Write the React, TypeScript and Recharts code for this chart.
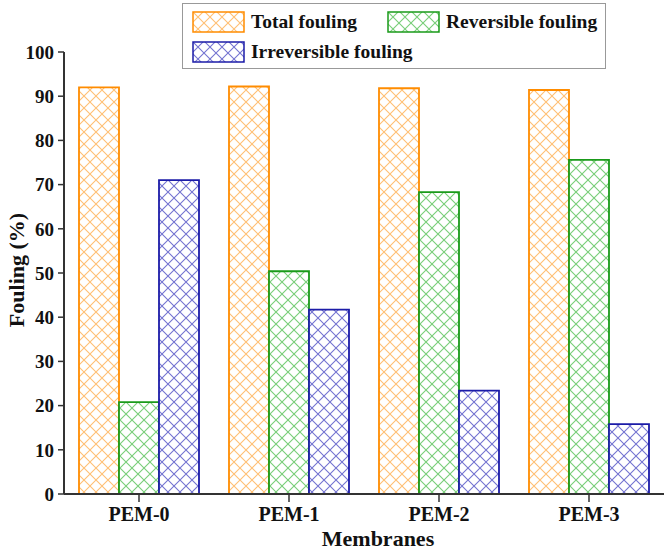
import React from "react";
import { BarChart, Bar, XAxis, YAxis, Legend } from "recharts";

const membranes = ["PEM-0", "PEM-1", "PEM-2", "PEM-3"];
const totalFouling = [92.0, 92.2, 91.8, 91.4];
const reversibleFouling = [20.8, 50.4, 68.3, 75.6];
const irreversibleFouling = [71.0, 41.7, 23.4, 15.8];
const yTicks = [0, 10, 20, 30, 40, 50, 60, 70, 80, 90, 100];

const SERIES = [
  { key: "total", name: "Total fouling", stroke: "#ff8c00", hatch: "#ffb45a" },
  { key: "reversible", name: "Reversible fouling", stroke: "#1a9a1a", hatch: "#5fc45f" },
  { key: "irreversible", name: "Irreversible fouling", stroke: "#1c1ca8", hatch: "#5a5ac8" },
];

const data = membranes.map((m, i) => ({
  name: m,
  total: totalFouling[i],
  reversible: reversibleFouling[i],
  irreversible: irreversibleFouling[i],
}));

const FONT = "'Liberation Serif', 'Times New Roman', serif";

function Hatch({ id, color }: { id: string; color: string }) {
  return (
    <pattern id={id} patternUnits="userSpaceOnUse" width={12} height={12}>
      <rect width={12} height={12} fill="#fff" />
      <path d="M0,0 L12,12 M12,0 L0,12" stroke={color} strokeWidth={1.1} opacity={0.85} />
    </pattern>
  );
}

function LegendBox() {
  const Item = ({ s, i }: { s: (typeof SERIES)[number]; i: number }) => (
    <div style={{ display: "flex", alignItems: "center", height: 22 }}>
      <svg width={54} height={22} style={{ marginRight: 5, display: "block" }}>
        <defs>
          <Hatch id={`lg-${i}`} color={s.hatch} />
        </defs>
        <rect x={1} y={1} width={51} height={20} fill={`url(#lg-${i})`} stroke={s.stroke} strokeWidth={1.5} />
      </svg>
      <span>{s.name}</span>
    </div>
  );
  return (
    <div
      style={{
        position: "absolute",
        left: 182,
        top: 3,
        width: 424,
        height: 66,
        border: "1px solid #999",
        boxSizing: "border-box",
        fontFamily: FONT,
        fontWeight: "bold",
        fontSize: 19.5,
        color: "#111",
        padding: "7px 0 0 9px",
        lineHeight: "22px",
      }}
    >
      <div style={{ display: "flex", gap: 30, height: 30 }}>
        <Item s={SERIES[0]} i={0} />
        <Item s={SERIES[1]} i={1} />
      </div>
      <div style={{ display: "flex" }}>
        <Item s={SERIES[2]} i={2} />
      </div>
    </div>
  );
}

export default function App() {
  const tickStyle = { fontFamily: FONT, fontWeight: "bold" as const, fontSize: 19, fill: "#111" };
  const titleStyle = { fontFamily: FONT, fontWeight: "bold" as const, fontSize: 22, fill: "#111" };
  return (
    <div style={{ position: "absolute", left: 0, top: 0, width: 666, height: 551, background: "#fff" }}>
      <BarChart
        width={666}
        height={551}
        data={data}
        margin={{ top: 52, right: 2, left: 0, bottom: 0 }}
        barCategoryGap={15}
        barGap={0}
      >
        <defs>
          {SERIES.map((s) => (
            <Hatch key={s.key} id={`hatch-${s.key}`} color={s.hatch} />
          ))}
        </defs>
        <XAxis
          dataKey="name"
          height={57}
          tick={{ ...tickStyle, fontSize: 20 }}
          tickLine={{ stroke: "#333", strokeWidth: 1.5 }}
          axisLine={{ stroke: "#333", strokeWidth: 2 }}
          tickSize={8}
          tickMargin={5}
          label={{
            value: "Membranes",
            position: "insideBottom",
            offset: 5,
            dx: 14,
            style: titleStyle,
          }}
        />
        <YAxis
          width={64}
          domain={[0, 100]}
          ticks={yTicks}
          interval={0}
          tick={tickStyle}
          tickLine={{ stroke: "#333", strokeWidth: 1.5 }}
          axisLine={{ stroke: "#333", strokeWidth: 2 }}
          tickSize={6}
          tickMargin={4}
          label={{
            value: "Fouling (%)",
            angle: -90,
            position: "insideLeft",
            offset: 16,
            dy: -3,
            style: { ...titleStyle, textAnchor: "middle" },
          }}
        />
        {SERIES.map((s) => (
          <Bar
            key={s.key}
            dataKey={s.key}
            name={s.name}
            fill={`url(#hatch-${s.key})`}
            stroke={s.stroke}
            strokeWidth={1.8}
            isAnimationActive={false}
          />
        ))}
        <Legend content={() => null} />
      </BarChart>
      <LegendBox />
    </div>
  );
}
